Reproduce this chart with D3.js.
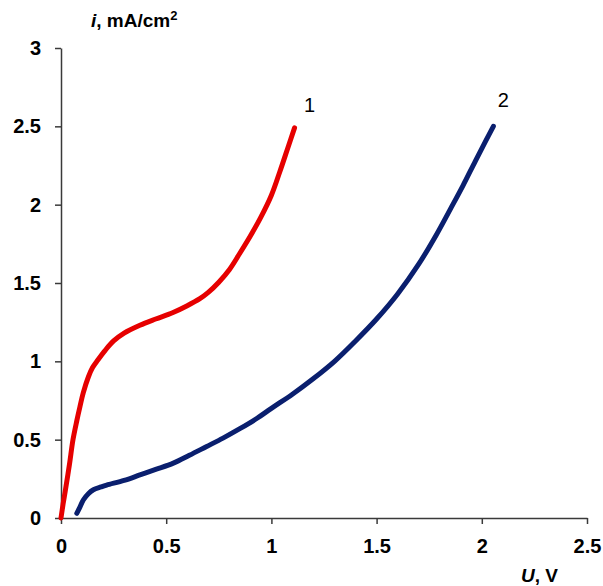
<!DOCTYPE html>
<html>
<head>
<meta charset="utf-8">
<script src="https://cdn.jsdelivr.net/npm/d3@7"></script>
<style>
  html, body { margin: 0; padding: 0; background: #fff; }
  svg { display: block; font-family: Arial, "Liberation Sans", sans-serif; }
</style>
</head>
<body>
<svg id="chart" width="603" height="586"></svg>
<script>
// Polarisation curves: current density i (mA/cm²) vs voltage U (V)
const curve1U = [0, 0.01, 0.02, 0.04, 0.057, 0.075, 0.09, 0.106, 0.13, 0.15, 0.176, 0.21, 0.25, 0.30, 0.375, 0.45, 0.53, 0.60, 0.66, 0.70, 0.75, 0.80, 0.85, 0.90, 0.95, 1.00, 1.04, 1.08, 1.11];
const curve1I = [0, 0.09, 0.17, 0.34, 0.50, 0.62, 0.71, 0.80, 0.90, 0.96, 1.01, 1.07, 1.13, 1.18, 1.23, 1.27, 1.31, 1.355, 1.40, 1.44, 1.505, 1.585, 1.69, 1.80, 1.92, 2.06, 2.21, 2.37, 2.49];

const curve2U = [0.075, 0.09, 0.106, 0.13, 0.154, 0.19, 0.217, 0.30, 0.375, 0.45, 0.534, 0.61, 0.69, 0.77, 0.85, 0.93, 1.0, 1.1, 1.2, 1.3, 1.4, 1.5, 1.6, 1.7, 1.785, 1.85, 1.91, 1.97, 2.02, 2.055];
const curve2I = [0.03, 0.07, 0.115, 0.155, 0.18, 0.198, 0.21, 0.24, 0.275, 0.31, 0.35, 0.40, 0.455, 0.51, 0.57, 0.635, 0.70, 0.79, 0.89, 1.00, 1.13, 1.27, 1.43, 1.62, 1.81, 1.97, 2.12, 2.28, 2.41, 2.50];

const xTicks = [0, 0.5, 1, 1.5, 2, 2.5];
const yTicks = [0, 0.5, 1, 1.5, 2, 2.5, 3];
const curveLabels = ["1", "2"];

const svg = d3.select("#chart");
const x = d3.scaleLinear().domain([0, 2.5]).range([61, 587]);
const y = d3.scaleLinear().domain([0, 3]).range([518, 48]);

const axisColor = "#3a3a3a";

// x axis
const gx = svg.append("g").attr("transform", `translate(0,${y(0)})`)
  .call(d3.axisBottom(x).tickValues(xTicks).tickFormat(d3.format("")).tickSizeInner(6).tickSizeOuter(0).tickPadding(15));
// y axis
const gy = svg.append("g").attr("transform", `translate(${x(0)},0)`)
  .call(d3.axisLeft(y).tickValues(yTicks).tickFormat(d3.format("")).tickSizeInner(6).tickSizeOuter(0).tickPadding(14));

[gx, gy].forEach(g => {
  g.select(".domain").attr("stroke", axisColor).attr("stroke-width", 1.5);
  g.selectAll(".tick line").attr("stroke", axisColor).attr("stroke-width", 1.5);
  g.selectAll(".tick text").attr("fill", "#000").attr("font-size", 20).attr("font-weight", "bold")
    .attr("font-family", "Arial, 'Liberation Sans', sans-serif");
});

// curves
const line = d3.line().x(d => x(d[0])).y(d => y(d[1])).curve(d3.curveCatmullRom.alpha(0.5));
const series = [
  { u: curve1U, i: curve1I, color: "#e60000", dx: 15, dy: -16 },
  { u: curve2U, i: curve2I, color: "#0a1f6e", dx: 10, dy: -19 }
];
series.forEach(s => {
  svg.append("path")
    .datum(s.u.map((u, k) => [u, s.i[k]]))
    .attr("fill", "none")
    .attr("stroke", s.color)
    .attr("stroke-width", 5)
    .attr("stroke-linecap", "round")
    .attr("stroke-linejoin", "round")
    .attr("d", line);
});

// curve numbers next to the curve ends
series.forEach((s, k) => {
  const n = s.u.length - 1;
  svg.append("text")
    .attr("x", x(s.u[n]) + s.dx)
    .attr("y", y(s.i[n]) + s.dy)
    .attr("text-anchor", "middle")
    .attr("font-size", 20)
    .attr("fill", "#000")
    .text(curveLabels[k]);
});

// axis titles
const yt = svg.append("text").attr("x", 91).attr("y", 27).attr("font-size", 19).attr("font-weight", "bold").attr("fill", "#000");
yt.append("tspan").attr("font-style", "italic").text("i");
yt.append("tspan").text(", mA/cm");
yt.append("tspan").attr("font-size", 13).attr("dy", -7).text("2");

const xt = svg.append("text").attr("x", 558).attr("y", 582).attr("text-anchor", "end").attr("font-size", 19).attr("font-weight", "bold").attr("fill", "#000");
xt.append("tspan").attr("font-style", "italic").text("U");
xt.append("tspan").text(", V");
</script>
</body>
</html>
